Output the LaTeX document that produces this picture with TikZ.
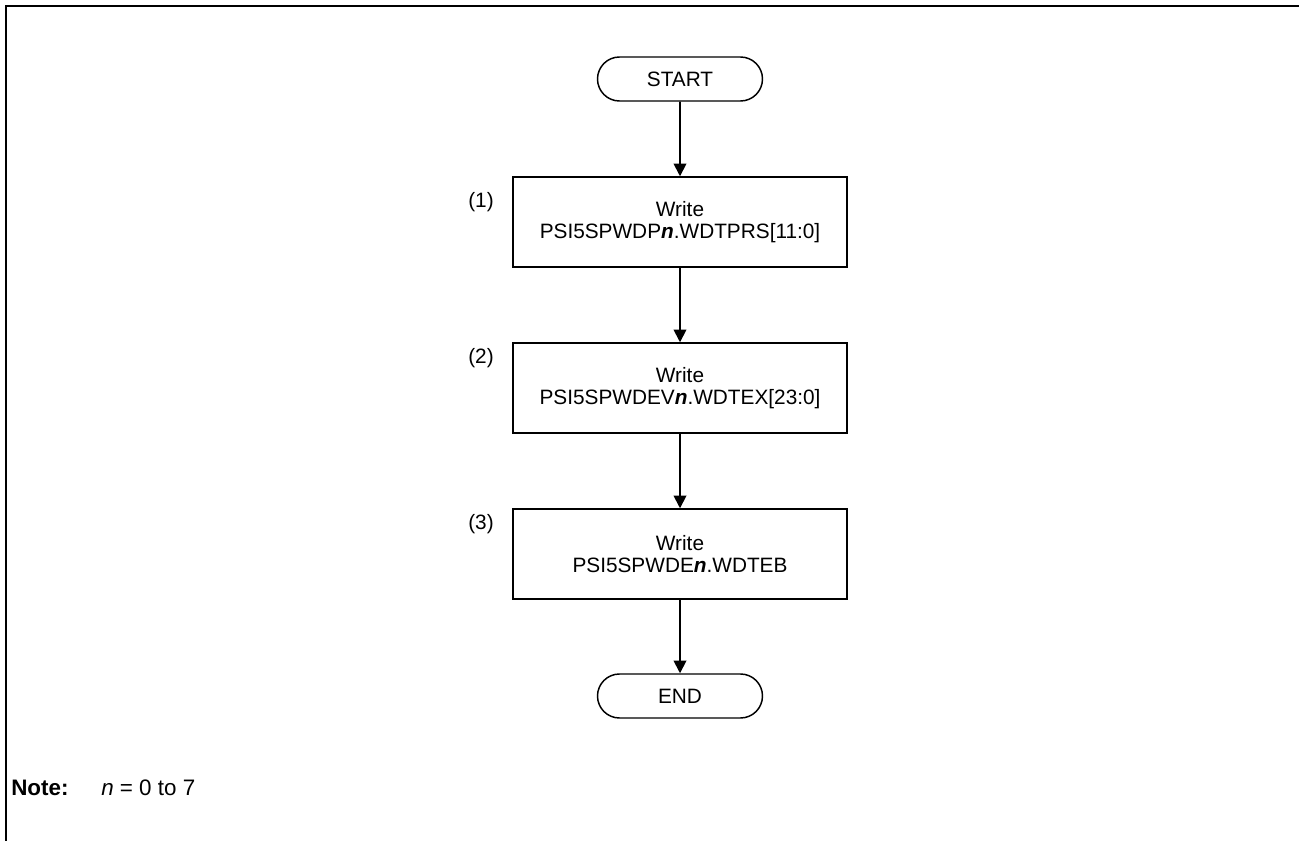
\documentclass[tikz,border=0pt]{standalone}
\usepackage{fontspec}
\setmainfont{Liberation Sans}
\usetikzlibrary{shapes.misc,arrows.meta}
\begin{document}
\begin{tikzpicture}[x=0.75pt,y=-0.75pt,
  every node/.style={font=\fontsize{15.6}{16.2}\selectfont},
  term/.style={draw,line width=1.1pt,rounded rectangle,minimum width=123.75pt,minimum height=33pt,inner sep=0pt},
  proc/.style={draw,line width=1.1pt,rectangle,minimum width=250.5pt,minimum height=67.5pt,align=center,inner sep=0pt},
  flow/.style={line width=1.3pt,-{Triangle[length=9.5pt,width=9.5pt]}},
  lbl/.style={anchor=center,inner sep=0pt},
  notetext/.style={anchor=base west,inner sep=0pt,font=\fontsize{16.8}{18}\selectfont}]
\useasboundingbox (0,0) rectangle (1299,841);
\draw[line width=2.2pt] (6,841) -- (6,6) -- (1299,6);
\node[term] (start) at (680,79) {START};
\node[proc] (b1) at (680,222) {Write\\PSI5SPWDP\textbf{\textit{n}}.WDTPRS[11:0]};
\node[proc] (b2) at (680,388) {Write\\PSI5SPWDEV\textbf{\textit{n}}.WDTEX[23:0]};
\node[proc] (b3) at (680,554) {Write\\PSI5SPWDE\textbf{\textit{n}}.WDTEB};
\node[term] (end) at (680,696) {END};
\node[lbl] (l1) at (481,202) {(1)};
\node[lbl] (l2) at (481,358) {(2)};
\node[lbl] (l3) at (481,524) {(3)};
\draw[flow] (start) -- (b1);
\draw[flow] (b1) -- (b2);
\draw[flow] (b2) -- (b3);
\draw[flow] (b3) -- (end);
\node[notetext] (note) at (11,795) {\textbf{Note:}};
\node[notetext] (noten) at (101,795) {\textit{n} = 0 to 7};
\end{tikzpicture}
\end{document}
